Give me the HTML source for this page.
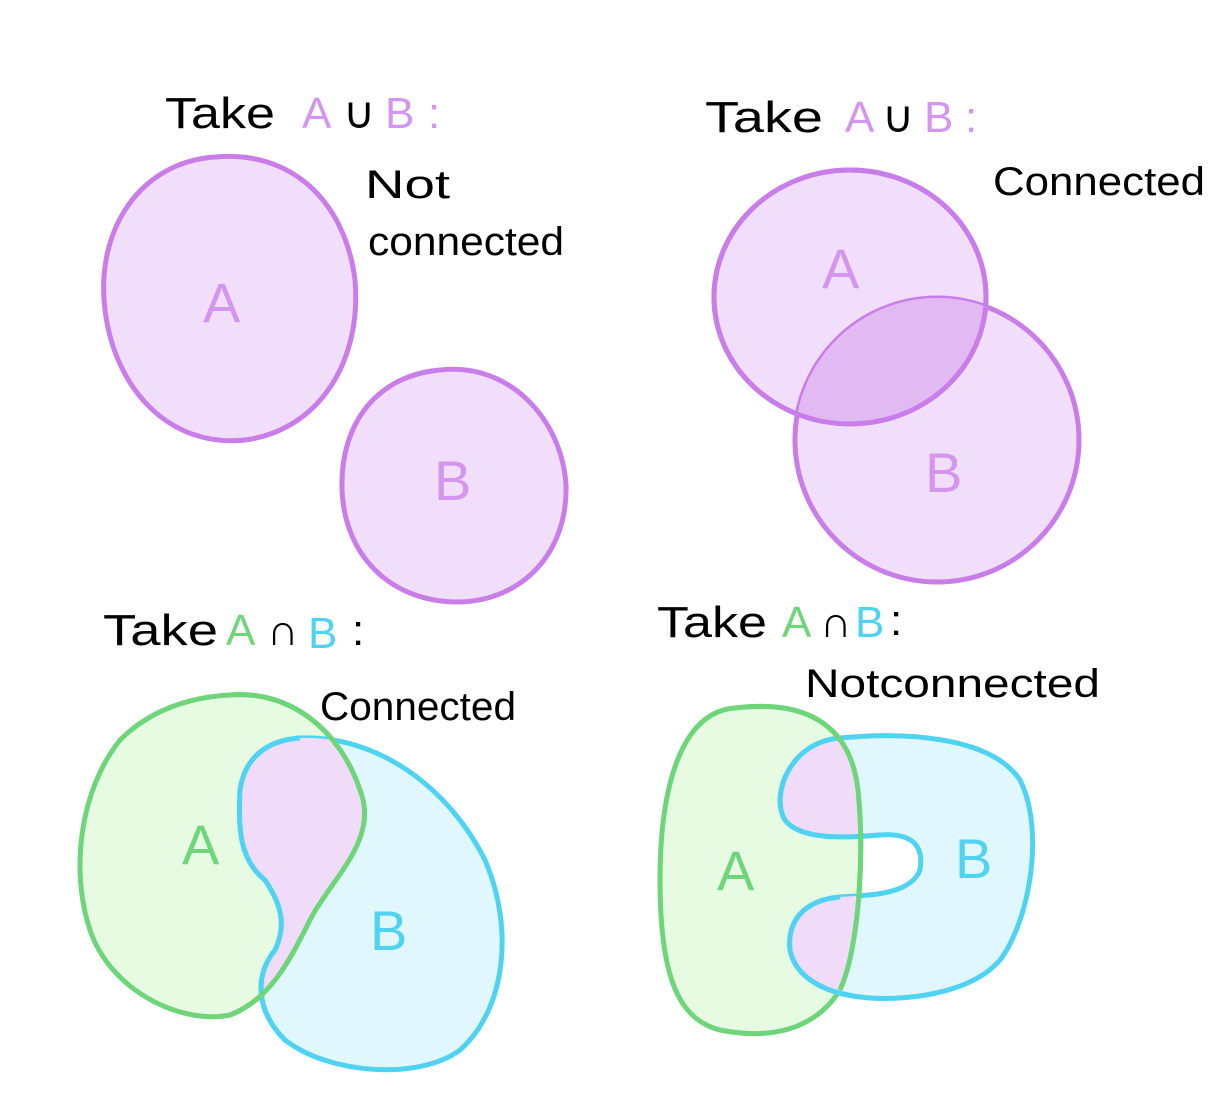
<!DOCTYPE html>
<html><head><meta charset="utf-8"><style>
html,body{margin:0;padding:0;background:#fff;}
svg{display:block}
text{font-family:"Liberation Sans",sans-serif;}
</style></head><body>
<svg width="1220" height="1108" viewBox="0 0 1220 1108" xmlns="http://www.w3.org/2000/svg">
<defs>
<clipPath id="gA"><path d="M735,708 C800,700 850,720 858,790 C865,860 858,950 840,990 C815,1030 770,1040 720,1030 C680,1020 660,980 660,880 C660,790 680,712 735,708 Z"/></clipPath>
<clipPath id="gL"><path d="M230,695 C290,690 340,730 360,790 C380,840 330,880 310,920 C290,960 270,1000 230,1015 C180,1025 110,990 90,930 C70,870 80,790 120,740 C150,710 190,697 230,695 Z"/></clipPath>
<clipPath id="tA"><ellipse cx="850" cy="297" rx="136" ry="127"/></clipPath>
</defs>
<g stroke-width="5" fill="none" stroke-linejoin="round">
<path d="M215,157 C290,150 345,200 355,280 C362,360 320,430 245,440 C170,448 115,390 105,310 C95,230 140,162 215,157 Z" fill="#f1defb" stroke="#c97de8"/>
<path d="M440,370 C510,362 562,420 566,485 C568,550 525,600 460,602 C395,603 345,560 342,490 C340,420 380,375 440,370 Z" fill="#f1defb" stroke="#c97de8"/>
<ellipse cx="850" cy="297" rx="136" ry="127" fill="#f1defb" stroke="#c97de8"/>
<ellipse cx="937" cy="440" rx="142" ry="142" fill="#f1defb" stroke="#c97de8"/>
<ellipse cx="937" cy="440" rx="142" ry="142" fill="#e3b9f4" stroke="none" clip-path="url(#tA)"/>
<ellipse cx="850" cy="297" rx="136" ry="127" fill="none" stroke="#c97de8"/>
<path d="M230,695 C290,690 340,730 360,790 C380,840 330,880 310,920 C290,960 270,1000 230,1015 C180,1025 110,990 90,930 C70,870 80,790 120,740 C150,710 190,697 230,695 Z" fill="#e7fbe2" stroke="#6ed57b"/>
<path d="M300,738 C380,735 450,790 485,860 C515,930 505,1010 460,1050 C420,1080 330,1075 285,1040 C255,1010 255,975 275,950 C290,920 275,895 265,880 C240,860 238,830 240,790 C245,755 270,740 300,738 Z" fill="#e0f7fd" stroke="#4fd3f1"/>
<path d="M300,738 C380,735 450,790 485,860 C515,930 505,1010 460,1050 C420,1080 330,1075 285,1040 C255,1010 255,975 275,950 C290,920 275,895 265,880 C240,860 238,830 240,790 C245,755 270,740 300,738 Z" fill="#f0dcf9" stroke="none" clip-path="url(#gL)"/>
<path d="M300,738 C270,740 245,755 240,790 C238,830 240,860 265,880 C275,895 290,920 275,950 C255,975 255,1010 285,1040" stroke="#4fd3f1"/>
<path d="M230,695 C290,690 340,730 360,790 C380,840 330,880 310,920 C290,960 270,1000 230,1015" stroke="#6ed57b"/>
<path d="M735,708 C800,700 850,720 858,790 C865,860 858,950 840,990 C815,1030 770,1040 720,1030 C680,1020 660,980 660,880 C660,790 680,712 735,708 Z" fill="#e7fbe2" stroke="#6ed57b"/>
<path d="M840,738 C900,732 990,735 1020,780 C1045,830 1030,920 1000,960 C970,995 900,1002 860,997 C820,992 795,975 790,950 C787,920 805,900 840,897 C870,895 910,895 920,870 C925,840 905,833 880,835 C845,838 800,840 785,820 C770,795 790,742 840,738 Z" fill="#e0f7fd" stroke="#4fd3f1"/>
<path d="M840,738 C900,732 990,735 1020,780 C1045,830 1030,920 1000,960 C970,995 900,1002 860,997 C820,992 795,975 790,950 C787,920 805,900 840,897 C870,895 910,895 920,870 C925,840 905,833 880,835 C845,838 800,840 785,820 C770,795 790,742 840,738 Z" fill="#f0dcf9" stroke="none" clip-path="url(#gA)"/>
<path d="M840,738 C790,742 770,795 785,820 C800,840 845,838 880,835 M840,897 C805,900 787,920 790,950 C795,975 820,992 860,997" stroke="#4fd3f1"/>
<path d="M735,708 C800,700 850,720 858,790 C865,860 858,950 840,990" stroke="#6ed57b"/>
</g>
<g font-size="44">
<text x="165" y="128" fill="#000" textLength="110" lengthAdjust="spacingAndGlyphs">Take</text>
<text x="302" y="128" fill="#d495ee">A</text><text x="343" y="128" fill="#000">∪</text><text x="385" y="128" fill="#d495ee">B</text><text x="428" y="128" fill="#d495ee">:</text>
<text x="705" y="132" fill="#000" textLength="118" lengthAdjust="spacingAndGlyphs">Take</text>
<text x="845" y="132" fill="#d495ee">A</text><text x="882" y="132" fill="#000">∪</text><text x="924" y="132" fill="#d495ee">B</text><text x="965" y="132" fill="#d495ee">:</text>
<text x="103" y="645" fill="#000" textLength="115" lengthAdjust="spacingAndGlyphs">Take</text>
<text x="226" y="645" fill="#6ed57b">A</text><text x="267" y="645" fill="#000">∩</text><text x="308" y="648" fill="#4fd3f1">B</text><text x="352" y="645" fill="#000">:</text>
<text x="657" y="637" fill="#000" textLength="110" lengthAdjust="spacingAndGlyphs">Take</text>
<text x="782" y="637" fill="#6ed57b">A</text><text x="820" y="637" fill="#000">∩</text><text x="855" y="637" fill="#4fd3f1">B</text><text x="890" y="635" fill="#000">:</text>
</g>
<g font-size="40" fill="#000">
<text x="365" y="198" textLength="85" lengthAdjust="spacingAndGlyphs">Not</text>
<text x="368" y="255" textLength="196" lengthAdjust="spacingAndGlyphs">connected</text>
<text x="993" y="195" textLength="212" lengthAdjust="spacingAndGlyphs">Connected</text>
<text x="320" y="720" textLength="196" lengthAdjust="spacingAndGlyphs">Connected</text>
<text x="805" y="697" textLength="295" lengthAdjust="spacingAndGlyphs">Notconnected</text>
</g>
<g font-size="56">
<text x="203" y="322" fill="#d495ee">A</text>
<text x="434" y="500" fill="#d495ee">B</text>
<text x="822" y="288" fill="#d495ee">A</text>
<text x="925" y="492" fill="#d495ee">B</text>
<text x="182" y="864" fill="#6ed57b">A</text>
<text x="370" y="950" fill="#4fd3f1">B</text>
<text x="717" y="890" fill="#6ed57b">A</text>
<text x="955" y="878" fill="#4fd3f1">B</text>
</g>
</svg>
</body></html>
